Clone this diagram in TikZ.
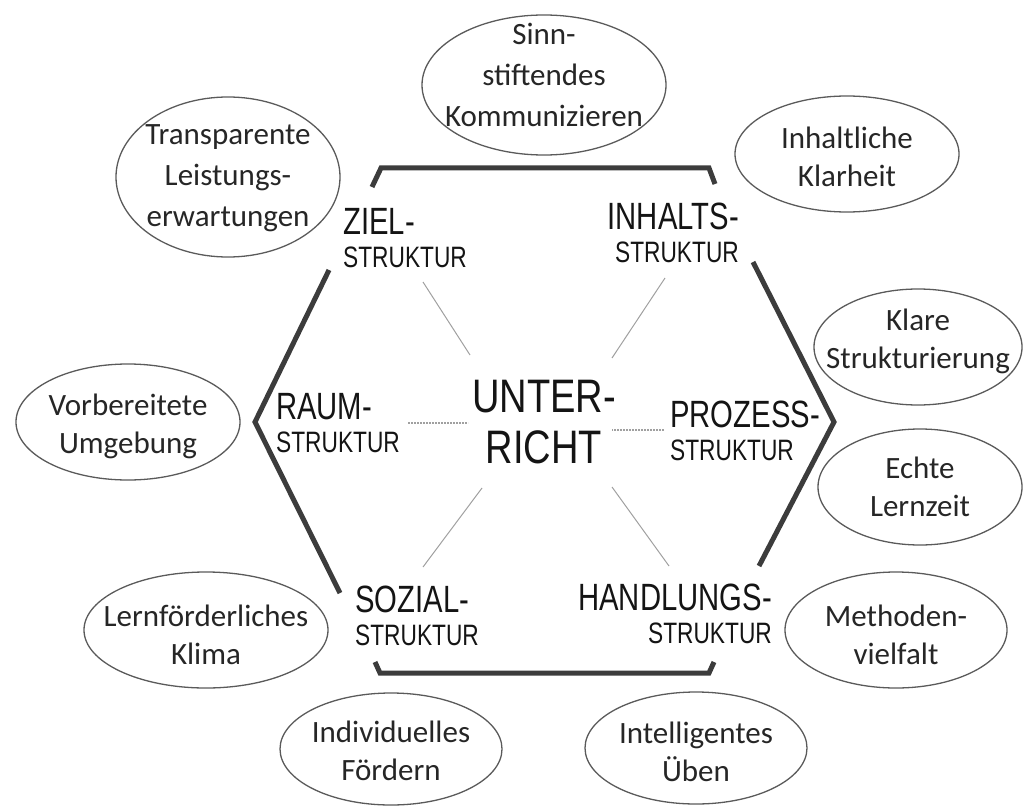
\documentclass[tikz,border=0pt]{standalone}
\usepackage{fontspec}
\usepackage{tikz}
\usetikzlibrary{shapes.geometric}

\newfontfamily\ovalfont{Carlito}
\newfontfamily\strfont[FakeStretch=0.77]{Liberation Sans}
\newfontfamily\midfont[FakeStretch=0.81]{Liberation Sans}
\definecolor{ovalgray}{HTML}{5A5A5A}
\definecolor{hexgray}{HTML}{3C3C3C}
\definecolor{spokegray}{HTML}{A0A0A0}
\newcommand{\bigstr}{\strfont\fontsize{38}{38}\selectfont}

\tikzset{
    ovaltext/.style={inner sep=0pt, align=center, text=black!85, font=\ovalfont\fontsize{31}{38}\selectfont},
    widetext/.style={ovaltext, font=\ovalfont\fontsize{31}{41}\selectfont},
    ovalline/.style={draw=ovalgray, line width=1.3pt},
    strlabel/.style={inner sep=0pt, text=black!92, font=\strfont\fontsize{29.5}{33}\selectfont},
    hexline/.style={draw=hexgray, line width=5pt, line join=miter},
    spoke/.style={draw=spokegray, line width=1pt},
    flatspoke/.style={draw=spokegray, line width=1.2pt, dash pattern=on 2pt off 1pt}
}

\begin{document}
\begin{tikzpicture}[x=1pt, y=-1pt]
                \useasboundingbox (0,0) rectangle (1024,805);
                % Strukturen im Sechseck
                \draw
                    (343, 208) node[strlabel, align=left,  anchor=north west](ziel){{\bigstr ZIEL-}\\STRUKTUR}
                    (739, 203) node[strlabel, align=right, anchor=north east](inhalt){{\bigstr INHALTS-}\\STRUKTUR}
                    (276, 393) node[strlabel, align=left,  anchor=north west](raum){{\bigstr RAUM-}\\STRUKTUR}
                    (670, 401) node[strlabel, align=left,  anchor=north west](prozess){{\bigstr PROZESS-}\\STRUKTUR}
                    (355, 586) node[strlabel, align=left,  anchor=north west](sozial){{\bigstr SOZIAL-}\\STRUKTUR}
                    (772, 584) node[strlabel, align=right, anchor=north east](handlung){{\bigstr HANDLUNGS-}\\STRUKTUR}
                    (544, 380) node[inner sep=0pt, align=center, anchor=north, text=black!92, font=\midfont\fontsize{47}{51}\selectfont](unterricht){UNTER-\\RICHT}
                ;
                % Merkmale in Ellipsen
                \draw
                    (544,  75) node[widetext](sinn){Sinn-\\stiftendes\\Kommunizieren}
                    (228, 178) node[widetext](transparent){Transparente\\Leistungs-\\erwartungen}
                    (847, 157) node[ovaltext](klarheit){Inhaltliche\\Klarheit}
                    (918, 341) node[ovaltext](klare){Klare\\Strukturierung}
                    (920, 487) node[ovaltext](lernzeit){Echte\\Lernzeit}
                    (896, 635) node[ovaltext](methoden){Methoden-\\vielfalt}
                    (696, 752) node[ovaltext](ueben){Intelligentes\\Üben}
                    (391, 751) node[ovaltext](foerdern){Individuelles\\Fördern}
                    (206, 635) node[ovaltext](klima){Lernförderliches\\Klima}
                    (128, 426) node[ovaltext](umgebung){Vorbereitete\\Umgebung}
                ;
                \draw[ovalline] (544,  85) ellipse [x radius=122pt, y radius=70pt];
                \draw[ovalline] (228, 177) ellipse [x radius=112pt, y radius=80pt];
                \draw[ovalline] (847, 154) ellipse [x radius=112pt, y radius=58pt];
                \draw[ovalline] (918, 347) ellipse [x radius=104pt, y radius=58pt];
                \draw[ovalline] (920, 487) ellipse [x radius=102pt, y radius=58pt];
                \draw[ovalline] (896, 630) ellipse [x radius=111pt, y radius=58pt];
                \draw[ovalline] (696, 748) ellipse [x radius=111pt, y radius=56pt];
                \draw[ovalline] (391, 749) ellipse [x radius=111pt, y radius=56pt];
                \draw[ovalline] (206, 630) ellipse [x radius=122pt, y radius=58pt];
                \draw[ovalline] (128, 422) ellipse [x radius=112pt, y radius=58pt];
                % Sechseck, an den Ecken offen
                \draw[hexline] (372, 187) -- (381, 168) -- (709, 168) -- (715, 184);
                \draw[hexline] (753, 262) -- (834, 422) -- (759, 566);
                \draw[hexline] (714, 662) -- (709, 673) -- (380, 673) -- (375, 662);
                \draw[hexline] (340, 593) -- (255, 422) -- (329, 270);
                % Speichen zur Mitte
                \coordinate (zielEnd)     at (423, 282);
                \coordinate (zielMid)     at (470, 355);
                \coordinate (inhaltEnd)   at (665, 278);
                \coordinate (inhaltMid)   at (612, 358);
                \coordinate (sozialEnd)   at (423, 567);
                \coordinate (sozialMid)   at (482, 488);
                \coordinate (handlungEnd) at (669, 566);
                \coordinate (handlungMid) at (612, 487);
                \coordinate (raumEnd)     at (408, 423);
                \coordinate (raumMid)     at (468, 423);
                \coordinate (prozessEnd)  at (664, 430);
                \coordinate (prozessMid)  at (612, 430);
                \draw[spoke] (zielEnd) -- (zielMid);
                \draw[spoke] (inhaltEnd) -- (inhaltMid);
                \draw[spoke] (sozialEnd) -- (sozialMid);
                \draw[spoke] (handlungEnd) -- (handlungMid);
                \draw[flatspoke] (raumEnd) -- (raumMid);
                \draw[flatspoke] (prozessEnd) -- (prozessMid);
            \end{tikzpicture}
\end{document}
